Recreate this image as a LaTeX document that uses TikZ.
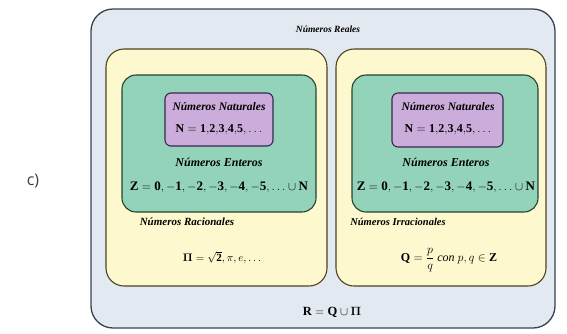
\documentclass[tikz,border=0pt]{standalone}
\usepackage{amsmath,amssymb,bm}
\usepackage{xcolor}
\usepackage{fontspec}
\setmainfont{Liberation Serif}
\setsansfont{Open Sans}
\usepackage{tikz}
\definecolor{realblue}{RGB}{226,233,241}
\definecolor{realedge}{RGB}{55,66,80}
\definecolor{setyellow}{RGB}{253,248,206}
\definecolor{setedge}{RGB}{78,68,32}
\definecolor{intgreen}{RGB}{146,211,186}
\definecolor{intedge}{RGB}{36,68,48}
\definecolor{natpurple}{RGB}{204,172,218}
\definecolor{natedge}{RGB}{56,40,78}
\tikzset{every picture/.style={line width=.55pt}}

\begin{document}
\begin{tikzpicture}[x=1pt,y=-1pt,
 every node/.style={inner sep=0pt},
 settitle/.style={font=\fontsize{#1}{#1}\selectfont\bfseries\itshape},
 mathtext/.style={font=\fontsize{#1}{#1}\selectfont}]
 \useasboundingbox (0,0) rectangle (567,333);
 % outer box
 \draw[realedge,fill=realblue,line width=1.3pt,rounded corners=22pt] (91,9) rectangle (555,328);
 % left and right halves
 \draw[setedge,fill=setyellow,line width=1.1pt,rounded corners=18pt] (106,49) rectangle (327,286);
 \draw[setedge,fill=setyellow,line width=1.1pt,rounded corners=18pt] (336,49) rectangle (546,286);
 \draw[intedge,fill=intgreen,line width=1.1pt,rounded corners=14pt] (122,75) rectangle (316,212);
 \draw[intedge,fill=intgreen,line width=1.1pt,rounded corners=14pt] (352,75) rectangle (538,212);
 \draw[natedge,fill=natpurple,line width=1.1pt,rounded corners=6pt] (165,93) rectangle (273,146);
 \draw[natedge,fill=natpurple,line width=1.1pt,rounded corners=6pt] (392,93) rectangle (503,147);
 \node[settitle=9.5] (reales) at (328,29) {Números Reales};
 \node[font=\fontsize{16}{16}\selectfont\sffamily\color{black!75}] (etiq) at (33,181) {c)};
 % left side
 \node[settitle=11.5] (natL) at (219,107) {Números Naturales};
 \node[mathtext=12] (nL) at (219,130) {$\mathbf{N}=\mathbf{1{,}2{,}3{,}4{,}5},\ldots$};
 \node[settitle=12] (entL) at (219,162) {Números Enteros};
 \node[mathtext=13] (zL) at (219,187) {$\mathbf{Z}=\mathbf{0},-\mathbf{1},-\mathbf{2},-\mathbf{3},-\mathbf{4},-\mathbf{5},\ldots\cup\mathbf{N}$};
 \node[settitle=11] (racL) at (187,222) {Números Racionales};
 \node[mathtext=11] (piL) at (222,258) {$\bm{\Pi}=\sqrt{\mathbf 2},\pi,e,\ldots$};
 % right side
 \node[settitle=11.5] (natR) at (448,107) {Números Naturales};
 \node[mathtext=12] (nR) at (448,130) {$\mathbf{N}=\mathbf{1{,}2{,}3{,}4{,}5},\ldots$};
 \node[settitle=12] (entR) at (446,162) {Números Enteros};
 \node[mathtext=13] (zR) at (446,187) {$\mathbf{Z}=\mathbf{0},-\mathbf{1},-\mathbf{2},-\mathbf{3},-\mathbf{4},-\mathbf{5},\ldots\cup\mathbf{N}$};
 \node[settitle=10.5] (irrR) at (398,222) {Números Irracionales};
 \node[mathtext=12] (qR) at (449,260) {$\mathbf{Q}=\dfrac{p}{q}\ \mathit{con}\ p,q\in\mathbf{Z}$};
 \node[mathtext=12.5] (realR) at (332,312) {$\mathbf{R}=\mathbf{Q}\cup\bm{\Pi}$};
\end{tikzpicture}
\end{document}
